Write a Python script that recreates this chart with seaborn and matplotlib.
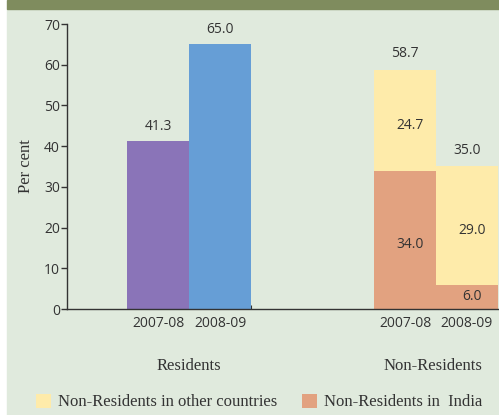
import matplotlib
matplotlib.use("Agg")

import matplotlib.pyplot as plt
import seaborn as sns
import pandas as pd
from matplotlib.patches import Patch, Rectangle

# =========================================================
# DATA
# =========================================================

slots = ["R 2007-08", "R 2008-09", "gap 1", "gap 2", "N 2007-08", "N 2008-09"]
tick_labels = ["2007-08", "2008-09", "", "", "2007-08", "2008-09"]

resident_slots = ["R 2007-08", "R 2008-09"]
residents = [41.3, 65.0]

nonres_slots = ["N 2007-08", "N 2008-09"]
nr_india = [34.0, 6.0]
nr_other = [24.7, 29.0]
nr_total = [58.7, 35.0]

groups = ["Residents", "Non-Residents"]
legend_labels = ["Non-Residents in other countries", "Non-Residents in  India"]

y_ticks = [0, 10, 20, 30, 40, 50, 60, 70]

# =========================================================
# STYLE
# =========================================================

sns.set_theme(style="ticks")
plt.rcParams["font.family"] = ["Liberation Serif", "DejaVu Serif"]

num_font = ["Open Sans", "DejaVu Sans"]
num_size = 10
word_size = 12

purple = "#8a74b8"
blue = "#669ed6"
yellow = "#feebaa"
orange = "#e2a280"
panel = "#e0eadd"
strip = "#7f8c5e"
dark = "#333333"

fig = plt.figure(figsize=(4.99, 4.15), dpi=100)
fig.patch.set_facecolor("white")

fig.patches.append(Rectangle((7 / 499, 0), 1, 406 / 415,
                             transform=fig.transFigure, color=panel, zorder=-10))
fig.patches.append(Rectangle((7 / 499, 406 / 415), 1, 9 / 415,
                             transform=fig.transFigure, color=strip, zorder=-10))

ax = fig.add_axes([67 / 499, 106 / 415, 432 / 499, 285 / 415])
ax.set_facecolor("none")

# =========================================================
# BARS
# =========================================================

res_df = pd.DataFrame({"slot": resident_slots, "value": residents})
sns.barplot(data=res_df, x="slot", y="value", hue="slot", order=slots,
            palette={resident_slots[0]: purple, resident_slots[1]: blue},
            width=1, saturation=1, errorbar=None, linewidth=0,
            legend=False, ax=ax)

tot_df = pd.DataFrame({"slot": nonres_slots, "value": nr_total})
sns.barplot(data=tot_df, x="slot", y="value", order=slots, color=yellow,
            width=1, saturation=1, errorbar=None, linewidth=0, ax=ax)

ind_df = pd.DataFrame({"slot": nonres_slots, "value": nr_india})
sns.barplot(data=ind_df, x="slot", y="value", order=slots, color=orange,
            width=1, saturation=1, errorbar=None, linewidth=0, ax=ax)

# value labels
for s, v in zip(resident_slots, residents):
    ax.text(slots.index(s), v + 3.6, f"{v:.1f}", ha="center", va="center",
            fontsize=num_size, family=num_font, color=dark)

for s, tot, ind, oth in zip(nonres_slots, nr_total, nr_india, nr_other):
    i = slots.index(s)
    ax.text(i, tot + 4.0, f"{tot:.1f}", ha="center", va="center",
            fontsize=num_size, family=num_font, color=dark)
    ax.text(i + 0.08, ind + oth / 2 - 1.2, f"{oth:.1f}", ha="center",
            va="center", fontsize=num_size, family=num_font, color=dark)
    ax.text(i + 0.08, ind / 2 - 1.2 if ind > 10 else ind / 2, f"{ind:.1f}",
            ha="center", va="center", fontsize=num_size, family=num_font,
            color=dark)

# =========================================================
# AXES
# =========================================================

ax.set_xlim(-1.48, 5.52)
ax.set_ylim(0, 70)
ax.set_yticks(y_ticks)
ax.set_yticklabels([str(t) for t in y_ticks], family=num_font,
                   fontsize=num_size, color=dark)
ax.set_xticks(range(len(slots)))
ax.set_xticklabels(tick_labels, family=num_font, fontsize=num_size,
                   color=dark)
ax.set_xticks([1.5, 4.5], minor=True)
ax.tick_params(axis="x", which="major", length=0, pad=5)
ax.tick_params(axis="x", which="minor", length=3, direction="in",
               width=0.8, color=dark)
ax.tick_params(axis="y", length=4, width=1, color=dark, pad=1)

ax.set_xlabel("")
ax.set_ylabel("Per cent", fontsize=word_size, color=dark, labelpad=7)

sns.despine(ax=ax)
for side in ["left", "bottom"]:
    ax.spines[side].set_color(dark)
    ax.spines[side].set_linewidth(1)

# group labels
xt = ax.get_xaxis_transform()
ax.text(0.5, -0.2, groups[0], transform=xt, ha="center", va="center",
        fontsize=word_size, color=dark)
ax.text(4.45, -0.2, groups[1], transform=xt, ha="center", va="center",
        fontsize=word_size, color=dark)

# legend
handles = [Patch(facecolor=yellow, edgecolor="none"),
           Patch(facecolor=orange, edgecolor="none")]
fig.legend(handles, legend_labels, loc="center",
           bbox_to_anchor=(0.52, 0.031), ncol=2, frameon=False,
           fontsize=word_size, handlelength=0.9, handleheight=0.9,
           handletextpad=0.42, columnspacing=1.5, labelcolor=dark)

plt.savefig("out.png", dpi=100)
plt.close()
